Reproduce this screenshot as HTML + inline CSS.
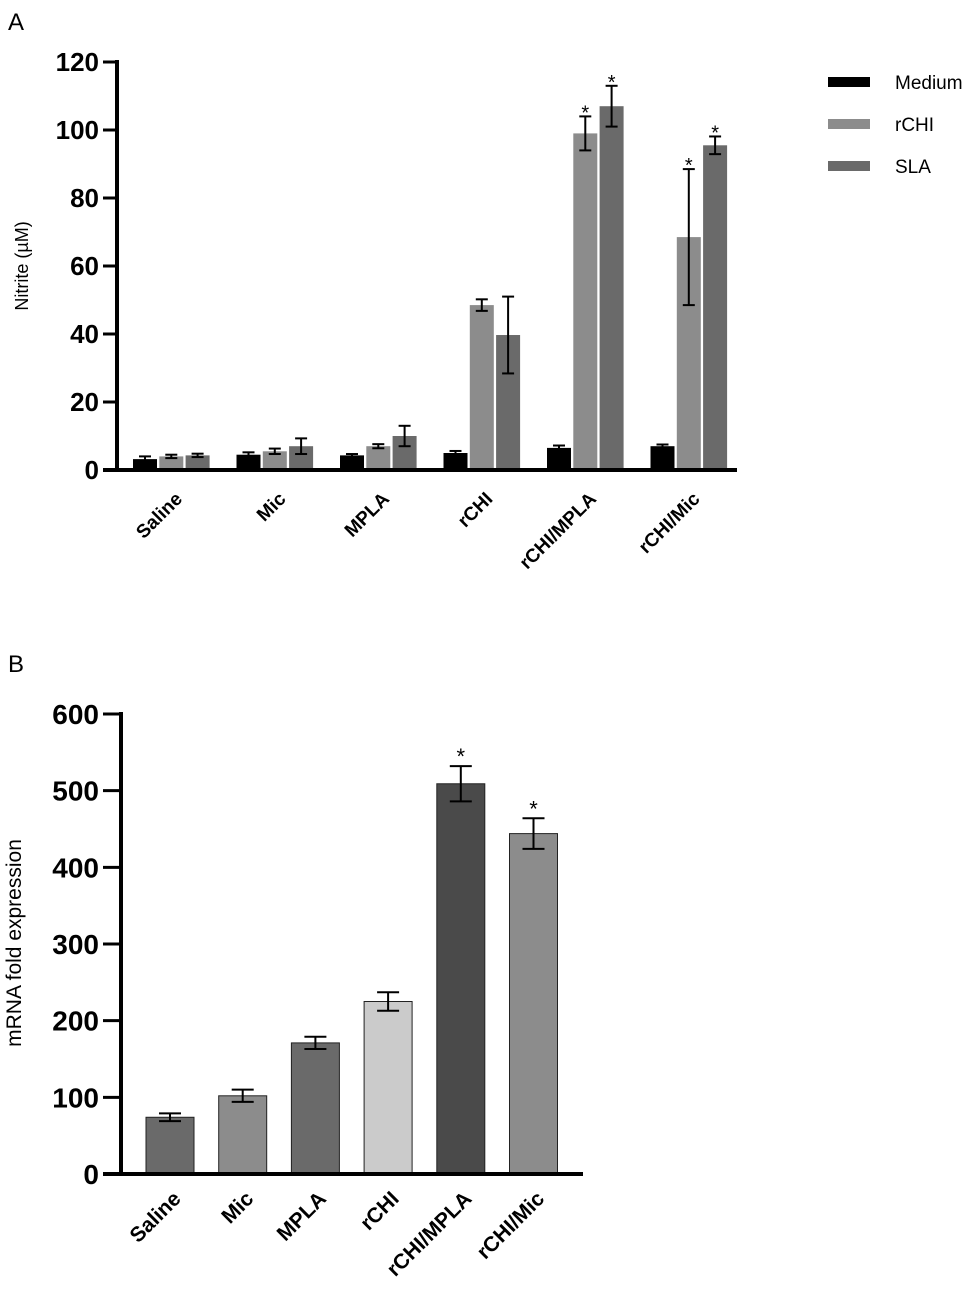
<!DOCTYPE html>
<html><head><meta charset="utf-8"><style>
body{margin:0;background:#fff;}
svg{display:block;font-family:"Liberation Sans",Arial,sans-serif;}
</style></head><body>
<svg id="fig" width="975" height="1314" viewBox="0 0 975 1314">
<text x="8" y="30" font-size="24">A</text>
<text x="8" y="672" font-size="24">B</text>
<g id="chartA"></g>
<g id="chartB"></g>
</svg>
<script>
const NS="http://www.w3.org/2000/svg";
const groupsA=["Saline","Mic","MPLA","rCHI","rCHI/MPLA","rCHI/Mic"];
const seriesNames=["Medium","rCHI","SLA"];
const mediumVals=[3.2,4.5,4.3,5,6.5,7];
const rchiVals=[4,5.5,7,48.5,99,68.5];
const slaVals=[4.3,7,10,39.7,107,95.5];
const mediumErr=[0.8,0.7,0.4,0.6,0.7,0.5];
const rchiErr=[0.5,0.8,0.6,1.7,5,20];
const slaErr=[0.5,2.3,3,11.3,6,2.6];
const starsA=[[0,0,0,0,0,0],[0,0,0,0,1,1],[0,0,0,0,1,1]];
const ticksA=[0,20,40,60,80,100,120];

const groupsB=["Saline","Mic","MPLA","rCHI","rCHI/MPLA","rCHI/Mic"];
const valsB=[74,102,171,225,509,444];
const errB=[5,8,8,12,23,20];
const starsB=[0,0,0,0,1,1];
const ticksB=[0,100,200,300,400,500,600];

function el(p,t,a){const e=document.createElementNS(NS,t);for(const k in a)e.setAttribute(k,a[k]);p.appendChild(e);return e;}

// Chart A
(function(){
const g=document.getElementById('chartA');
const x0=117,y0=470,yTop=62,yMax=120;
const ys=v=>y0-(v/yMax)*(y0-yTop);
const colors=["#000000","#8c8c8c","#6a6a6a"];
const vals=[mediumVals,rchiVals,slaVals];
const errs=[mediumErr,rchiErr,slaErr];
const gStart=133,gStep=103.5,bw=24,bstep=26.3;
groupsA.forEach((name,i)=>{
  vals.forEach((arr,s)=>{
    const bx=gStart+i*gStep+s*bstep;
    const r=el(g,'rect',{x:bx,y:ys(arr[i]),width:bw,height:y0-ys(arr[i]),fill:colors[s]});
    
    
    const cx=bx+bw/2,t=ys(arr[i]+errs[s][i]),b=ys(arr[i]-errs[s][i]);
    const eg=el(g,'g',{stroke:'#000','stroke-width':2});
    
    
    el(eg,'line',{x1:cx,x2:cx,y1:t,y2:b});
    el(eg,'line',{x1:cx-6,x2:cx+6,y1:t,y2:t});
    el(eg,'line',{x1:cx-6,x2:cx+6,y1:b,y2:b});
    if(starsA[s][i]){const st=el(g,'text',{x:cx,y:t+3,'text-anchor':'middle','font-size':20});st.textContent='*';
      }
  });
  const cx=gStart+i*gStep+bstep+bw/2;
  const lt=el(g,'text',{x:0,y:0,'text-anchor':'end','font-size':19,'font-weight':'bold',transform:`translate(${cx+12},${500}) rotate(-45)`});
  lt.textContent=name;
  
  
});
el(g,'line',{x1:x0,x2:x0,y1:yTop-2,y2:y0+2,stroke:'#000','stroke-width':4});
el(g,'line',{x1:x0-14,x2:737,y1:y0,y2:y0,stroke:'#000','stroke-width':4});
ticksA.forEach(t=>{
  el(g,'line',{x1:x0-14,x2:x0,y1:ys(t),y2:ys(t),stroke:'#000','stroke-width':3});
  const tl=el(g,'text',{x:x0-18,y:ys(t)+9,'text-anchor':'end','font-size':26,'font-weight':'bold'});
  tl.textContent=t;
  
  
});
const yt=el(g,'text',{x:0,y:0,'text-anchor':'middle','font-size':18,transform:'translate(28,266) rotate(-90)'});
yt.textContent='Nitrite (µM)';


seriesNames.forEach((n,s)=>{
  const y=82+s*42;
  const lg=el(g,'g',{});
  
  
  el(lg,'rect',{x:828,y:y-5,width:42,height:10,fill:colors[s]});
  const tx=el(lg,'text',{x:895,y:y+7,'font-size':19});tx.textContent=n;
});
})();

// Chart B
(function(){
const g=document.getElementById('chartB');
const x0=121,y0=1174,yTop=714,yMax=600;
const ys=v=>y0-(v/yMax)*(y0-yTop);
const colors=["#6a6a6a","#8c8c8c","#6a6a6a","#cbcbcb","#4a4a4a","#8c8c8c"];
const start=146,step=72.7,bw=48;
groupsB.forEach((name,i)=>{
  const bx=start+i*step;
  const r=el(g,'rect',{x:bx,y:ys(valsB[i]),width:bw,height:y0-ys(valsB[i]),fill:colors[i],stroke:'#222','stroke-width':1});
  
  
  const cx=bx+bw/2,t=ys(valsB[i]+errB[i]),b=ys(valsB[i]-errB[i]);
  const eg=el(g,'g',{stroke:'#000','stroke-width':2});
  
  
  el(eg,'line',{x1:cx,x2:cx,y1:t,y2:b});
  el(eg,'line',{x1:cx-11,x2:cx+11,y1:t,y2:t});
  el(eg,'line',{x1:cx-11,x2:cx+11,y1:b,y2:b});
  if(starsB[i]){const st=el(g,'text',{x:cx,y:t-2,'text-anchor':'middle','font-size':22});st.textContent='*';
    }
  const lt=el(g,'text',{x:0,y:0,'text-anchor':'end','font-size':21,'font-weight':'bold',transform:`translate(${cx+12},${1200}) rotate(-45)`});
  lt.textContent=name;
  
  
});
el(g,'line',{x1:x0,x2:x0,y1:yTop-2,y2:y0+2,stroke:'#000','stroke-width':4});
el(g,'line',{x1:x0-18,x2:583,y1:y0,y2:y0,stroke:'#000','stroke-width':4});
ticksB.forEach(t=>{
  el(g,'line',{x1:x0-18,x2:x0,y1:ys(t),y2:ys(t),stroke:'#000','stroke-width':3});
  const tl=el(g,'text',{x:x0-22,y:ys(t)+10,'text-anchor':'end','font-size':28,'font-weight':'bold'});
  tl.textContent=t;
  
  
});
const yt=el(g,'text',{x:0,y:0,'text-anchor':'middle','font-size':21,transform:'translate(21,943) rotate(-90)'});
yt.textContent='mRNA fold expression';


})();
</script>
</body></html>
